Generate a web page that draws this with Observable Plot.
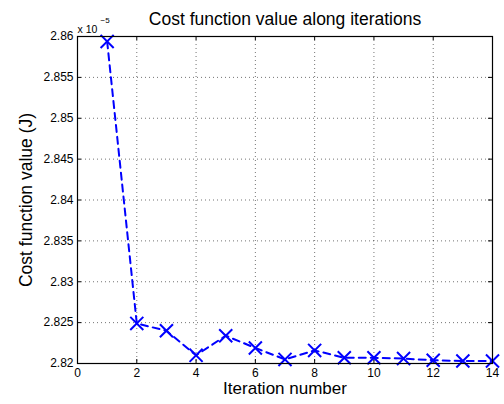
<!DOCTYPE html>
<html>
<head>
<meta charset="utf-8">
<script src="https://cdn.jsdelivr.net/npm/d3@7"></script>
<script src="https://cdn.jsdelivr.net/npm/@observablehq/plot@0.6"></script>
<style>
  html, body { margin: 0; padding: 0; background: #fff; }
  svg { font-family: "Liberation Sans", Arial, Helvetica, sans-serif; }
</style>
</head>
<body>
<div id="chart"></div>
<script>
// Iteration index and cost function value (in units of 1e-5 J)
const iterations = [1, 2, 3, 4, 5, 6, 7, 8, 9, 10, 11, 12, 13, 14];
const costValues = [2.8594, 2.8249, 2.8240, 2.8210, 2.8234, 2.8219, 2.8205, 2.8216, 2.8207, 2.8207, 2.8206, 2.8204, 2.8203, 2.8203];

const xTicks = [0, 2, 4, 6, 8, 10, 12, 14];
const yTicks = [2.82, 2.825, 2.83, 2.835, 2.84, 2.845, 2.85, 2.855, 2.86];

const titleText = "Cost function value along iterations";
const xLabel = "Iteration number";
const yLabel = "Cost function value (J)";

const data = iterations.map((it, i) => ({iter: it, cost: costValues[i]}));
const blue = "#0000ff";
const font = '"Liberation Sans", Arial, sans-serif';

const chart = Plot.plot({
  width: 504,
  height: 404,
  marginLeft: 77,
  marginRight: 12,
  marginTop: 36,
  marginBottom: 41,
  style: {fontSize: "12px", fontFamily: font, color: "#000", background: "#fff"},
  x: {domain: [0, 14], ticks: xTicks},
  y: {domain: [2.82, 2.86], ticks: yTicks},
  marks: [
    // dotted grid
    Plot.gridX(xTicks.slice(1, -1), {stroke: "#000", strokeOpacity: 0.55, strokeDasharray: "1,3"}),
    Plot.gridY(yTicks.slice(1, -1), {stroke: "#000", strokeOpacity: 0.55, strokeDasharray: "1,3"}),
    // small inward ticks on all four sides
    Plot.tickX(xTicks, {x: d => d, y: null, stroke: "#000", insetTop: 323}),
    Plot.tickX(xTicks, {x: d => d, y: null, stroke: "#000", insetBottom: 323}),
    Plot.tickY(yTicks, {y: d => d, x: null, stroke: "#000", insetRight: 411}),
    Plot.tickY(yTicks, {y: d => d, x: null, stroke: "#000", insetLeft: 411}),
    Plot.axisX(xTicks, {tickSize: 0, tickPadding: 5, label: null, tickFormat: d => String(d)}),
    Plot.axisY(yTicks, {tickSize: 0, tickPadding: 4, label: null, tickFormat: d => String(+d.toFixed(3))}),
    // cost curve
    Plot.line(data, {x: "iter", y: "cost", stroke: blue, strokeWidth: 2, strokeDasharray: "7,5"}),
    Plot.dot(data, {x: "iter", y: "cost", symbol: "times", r: 6, stroke: blue, strokeWidth: 2}),
    Plot.frame({stroke: "#000", strokeWidth: 1.2}),
    // titles
    Plot.text([titleText], {frameAnchor: "top", lineAnchor: "middle", dy: -17, fontSize: 17.5, fill: "#000"}),
    Plot.text([xLabel], {frameAnchor: "bottom", lineAnchor: "middle", dy: 25, fontSize: 17, fill: "#000"}),
    Plot.text([yLabel], {frameAnchor: "left", textAnchor: "middle", lineAnchor: "middle", dx: -51, rotate: -90, fontSize: 17.5, fill: "#000"}),
    // axis exponent
    Plot.text(["x 10"], {frameAnchor: "top-left", textAnchor: "start", lineAnchor: "bottom", dx: 0, dy: -4, fontSize: 10.5, fill: "#000"}),
    Plot.text(["\u22125"], {frameAnchor: "top-left", textAnchor: "start", lineAnchor: "bottom", dx: 23, dy: -14, fontSize: 8, fill: "#000"})
  ]
});

document.getElementById("chart").appendChild(chart);
</script>
</body>
</html>
